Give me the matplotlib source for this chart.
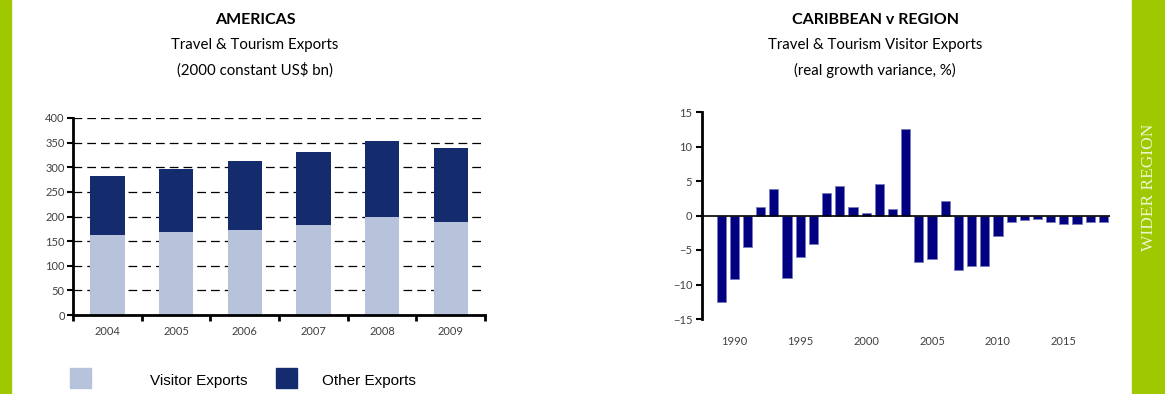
import matplotlib.pyplot as plt
from matplotlib.patches import Rectangle
from matplotlib.ticker import MultipleLocator

# Left chart data (Americas, 2000 constant US$ bn)
years_left = ["2004", "2005", "2006", "2007", "2008", "2009"]
visitor_exports = [163, 169, 173, 183, 198, 189]
total_exports = [283, 297, 313, 330, 354, 340]
other_exports = [t - v for t, v in zip(total_exports, visitor_exports)]

# Right chart data (Caribbean v region, real growth variance %)
years_right = list(range(1989, 2019))
growth_var = [-12.5, -9.2, -4.5, 1.2, 3.9, -9.1, -6.0, -4.1, 3.3, 4.3,
              1.3, 0.4, 4.5, 1.0, 12.5, -6.7, -6.3, 2.1, -7.9, -7.3,
              -7.3, -2.9, -1.0, -0.7, -0.5, -0.9, -1.3, -1.2, -1.0, -0.9]

light = "#b6c3da"
dark = "#142c6e"
navy = "#000080"
green = "#a0c800"
tickc = "#404040"
font = "Lato"

fig = plt.figure(figsize=(11.65, 3.94), dpi=100)

# green side bands
fig.patches.append(Rectangle((0, 0), 11 / 1165, 1, transform=fig.transFigure, color=green, zorder=0))
fig.patches.append(Rectangle((1132 / 1165, 0), 33 / 1165, 1, transform=fig.transFigure, color=green, zorder=0))
fig.text(1149 / 1165, 1 - 187 / 394, "WIDER REGION", rotation=90, ha="center", va="center",
         family="Liberation Serif", fontsize=12.5, color="#eef5d0")

# ---- left chart ----
ax1 = fig.add_axes([73 / 1165, 79 / 394, 412 / 1165, 197 / 394])
x = range(len(years_left))
ax1.bar(x, visitor_exports, width=0.5, color=light, zorder=2)
ax1.bar(x, other_exports, bottom=visitor_exports, width=0.5, color=dark, zorder=2)
ax1.set_xlim(-0.5, 5.5)
ax1.set_ylim(0, 400)
ax1.yaxis.set_major_locator(MultipleLocator(50))
ax1.yaxis.grid(True, color="black", linestyle=(0, (7, 4)), linewidth=0.9, zorder=0)
ax1.set_axisbelow(True)
ax1.set_xticks(list(x))
ax1.set_xticklabels(years_left)
ax1.set_xticks([i - 0.5 for i in range(7)], minor=True)
ax1.tick_params(axis="x", which="major", length=0, pad=8, labelsize=8, labelcolor=tickc)
ax1.tick_params(axis="x", which="minor", length=4, width=2, direction="out", color="black")
ax1.tick_params(axis="y", length=4, width=1.5, direction="out", labelsize=8, labelcolor=tickc, pad=2)
for s in ["top", "right"]:
    ax1.spines[s].set_visible(False)
for s in ["left", "bottom"]:
    ax1.spines[s].set_linewidth(2)
for lab in ax1.get_xticklabels() + ax1.get_yticklabels():
    lab.set_family(font)

fig.text(255 / 1165, 1 - 20 / 394, "AMERICAS", ha="center", va="center", family=font,
         fontweight="bold", fontsize=11.5)
fig.text(255 / 1165, 1 - 45 / 394, "Travel & Tourism Exports", ha="center", va="center",
         family=font, fontsize=10.8)
fig.text(255 / 1165, 1 - 70 / 394, "(2000 constant US$ bn)", ha="center", va="center",
         family=font, fontsize=10.8)

# legend
fig.patches.append(Rectangle((70 / 1165, 1 - 388 / 394), 21 / 1165, 20 / 394,
                             transform=fig.transFigure, color=light))
fig.text(150 / 1165, 1 - 381 / 394, "Visitor Exports", ha="left", va="center",
         family="Liberation Sans", fontsize=11)
fig.patches.append(Rectangle((276 / 1165, 1 - 388 / 394), 21 / 1165, 20 / 394,
                             transform=fig.transFigure, color=dark))
fig.text(322 / 1165, 1 - 381 / 394, "Other Exports", ha="left", va="center",
         family="Liberation Sans", fontsize=11)

# ---- right chart ----
ax2 = fig.add_axes([702 / 1165, 75 / 394, 408 / 1165, 207 / 394])
ax2.bar(years_right, growth_var, width=0.7, color=navy, edgecolor="#7a7ac0", linewidth=0.6, zorder=2)
ax2.axhline(0, color="black", linewidth=1.2, zorder=3)
ax2.set_xlim(1987.55, 2018.5)
ax2.set_ylim(-15, 15)
ax2.yaxis.set_major_locator(MultipleLocator(5))
ax2.set_xticks(range(1990, 2019, 5))
ax2.tick_params(axis="x", length=0, pad=12, labelsize=8, labelcolor=tickc)
ax2.tick_params(axis="y", length=4, width=1.5, direction="out", labelsize=8, labelcolor=tickc, pad=3)
for s in ["top", "right", "bottom"]:
    ax2.spines[s].set_visible(False)
ax2.spines["left"].set_linewidth(2)
for lab in ax2.get_xticklabels() + ax2.get_yticklabels():
    lab.set_family(font)

fig.text(875 / 1165, 1 - 20 / 394, "CARIBBEAN v REGION", ha="center", va="center", family=font,
         fontweight="bold", fontsize=11.5)
fig.text(875 / 1165, 1 - 45 / 394, "Travel & Tourism Visitor Exports", ha="center", va="center",
         family=font, fontsize=10.8)
fig.text(875 / 1165, 1 - 70 / 394, "(real growth variance, %)", ha="center", va="center",
         family=font, fontsize=10.8)

fig.savefig("out.png", dpi=100)
